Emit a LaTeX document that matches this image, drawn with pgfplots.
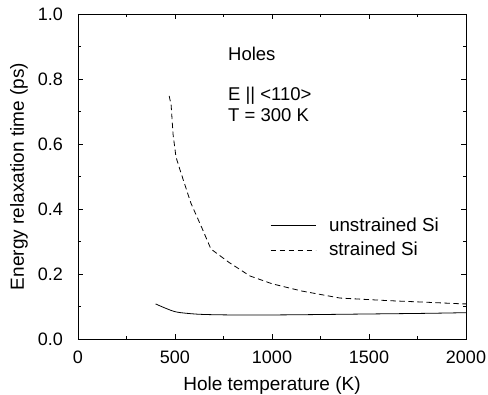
\documentclass[border=0pt]{standalone}
\usepackage{fontspec}
\setmainfont{Liberation Sans}
\usepackage{pgfplots}
\pgfplotsset{compat=1.18}
\begin{document}
\fontsize{19bp}{22bp}\selectfont
\begin{tikzpicture}
\begin{axis}[
  scale only axis, width=388bp, height=325bp,
  xmin=0, xmax=2000, ymin=0, ymax=1.0,
  xtick={0,500,1000,1500,2000},
  minor xtick={250,750,1250,1750},
  ytick={0,0.2,0.4,0.6,0.8,1.0},
  minor ytick={0.1,0.3,0.5,0.7,0.9},
  xticklabel style={/pgf/number format/1000 sep={}},
  yticklabel style={/pgf/number format/fixed,/pgf/number format/fixed zerofill,/pgf/number format/precision=1},
  /pgf/number format/assume math mode=true,
  scaled y ticks=false,
  tick align=inside,
  major tick length=5bp, minor tick length=3bp,
  every tick/.style={black, line width=0.6pt},
  axis line style={line width=0.9pt},
  xlabel={Hole temperature (K)},
  ylabel={Energy relaxation time (ps)},
  xticklabel style={anchor=base, inner sep=0pt, yshift=-25bp},
  yticklabel style={anchor=east, inner sep=0pt, xshift=-15bp},
  xlabel style={anchor=base, inner sep=0pt, at={(axis description cs:0.5,0)}, yshift=-52bp},
  ylabel style={anchor=north, inner sep=0pt, at={(axis description cs:0,0.5)}, yshift=68bp},
  tick label style={font=\fontsize{18bp}{21bp}\selectfont},
  label style={font=\fontsize{19bp}{22bp}\selectfont},
  legend style={draw=none, fill=none, inner sep=0pt, at={(axis cs:990,0.374)}, anchor=north west,
    nodes={inner sep=0pt},
    font=\fontsize{18.8bp}{22bp}\selectfont, row sep=8bp,
    /tikz/every odd column/.style={column sep=13bp}},
  legend cell align=left,
  legend image code/.code={\draw[#1] (0cm,0cm) -- (45bp,0cm);},
]
\addplot[black, line width=0.8pt, smooth] coordinates {
 (400,0.108) (450,0.095) (508,0.083) (600,0.077) (680,0.075) (800,0.074)
 (1000,0.074) (1200,0.075) (1500,0.077) (1800,0.079) (2000,0.081)
};
\addlegendentry{unstrained Si}
\addplot[black, line width=0.8pt, dash pattern=on 5.5bp off 3.5bp] coordinates {
 (470,0.748) (480,0.72) (490,0.63) (505,0.56) (526,0.52) (582,0.418)
 (640,0.34) (685,0.277) (780,0.235) (886,0.194) (1000,0.170) (1150,0.148)
 (1350,0.126) (1600,0.118) (1800,0.113) (1985,0.108) (2000,0.108)
};
\addlegendentry{strained Si}
\node[anchor=base west, inner sep=0pt, font=\fontsize{18.5bp}{22bp}\selectfont] at (axis cs:773,0.858) {Holes};
\node[anchor=base west, inner sep=0pt, font=\fontsize{18.5bp}{22bp}\selectfont] at (axis cs:773,0.735) {E || <110>};
\node[anchor=base west, inner sep=0pt, font=\fontsize{18.5bp}{22bp}\selectfont] at (axis cs:773,0.668) {T = 300 K};
\end{axis}
\path (current axis.south west) ++(-78bp,-55bp) coordinate (bl);
\path (current axis.north east) ++(22bp,14bp) coordinate (tr);
\useasboundingbox (bl) rectangle (tr);
\end{tikzpicture}
\end{document}
